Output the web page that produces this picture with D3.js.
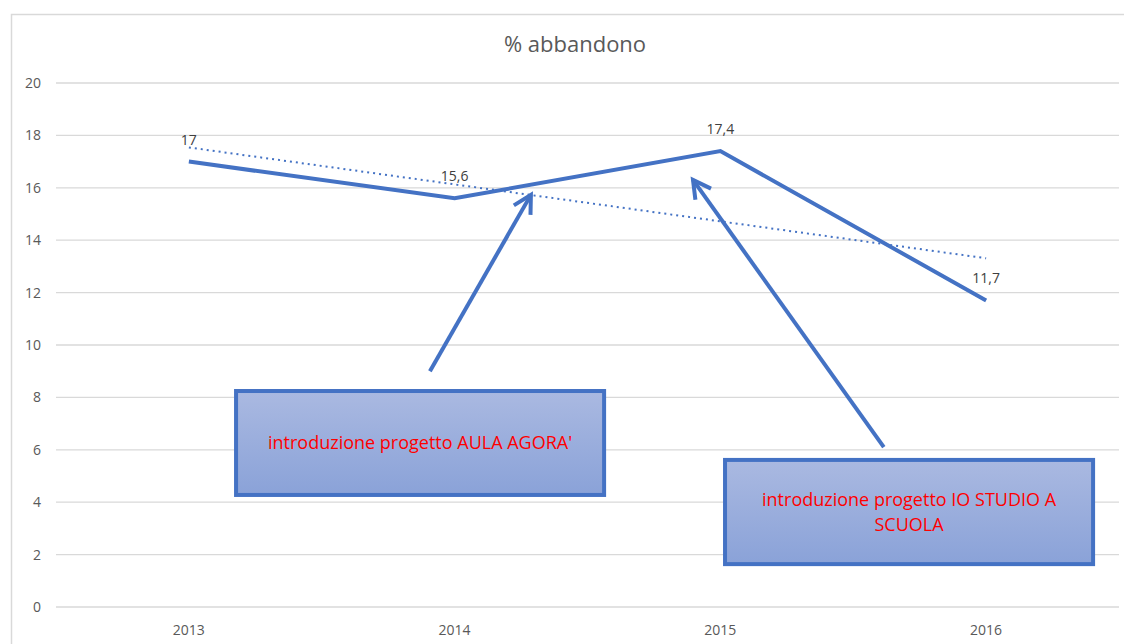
<!DOCTYPE html>
<html>
<head>
<meta charset="utf-8">
<script src="https://cdn.jsdelivr.net/npm/d3@7"></script>
<style>
  body { margin:0; background:#fff; }
  text { font-family: "Open Sans", "Noto Sans", sans-serif; }
</style>
</head>
<body>
<div id="plot"></div>
<script>
// data
var years = ['2013','2014','2015','2016'];
var abbandono = [17, 15.6, 17.4, 11.7];
var yTicks = [0,2,4,6,8,10,12,14,16,18,20];

// annotations, in data space (x = category index, y = value)
var boxes = [
  {x0:0.17, x1:1.57, y0:8.32, y1:4.2, lines:["introduzione progetto AULA AGORA'"]},
  {x0:2.01, x1:3.41, y0:5.69, y1:1.56, lines:["introduzione progetto IO STUDIO A","SCUOLA"]}
];
var arrows = [
  {x0:0.907, y0:9.0, x1:1.287, y1:15.73},
  {x0:2.615, y0:6.1, x1:1.897, y1:16.3}
];

var W = 1124, H = 644;
var margin = {t:83, r:5, b:37, l:56};
var blue = '#4472C4';

var svg = d3.select('#plot').append('svg')
  .attr('width', W).attr('height', H);

var defs = svg.append('defs');
var grad = defs.append('linearGradient').attr('id','boxfill')
  .attr('x1',0).attr('y1',0).attr('x2',0).attr('y2',1);
grad.append('stop').attr('offset','0%').attr('stop-color','#AAB9E1');
grad.append('stop').attr('offset','100%').attr('stop-color','#8AA2D8');

// chart border
svg.append('rect')
  .attr('x',11.5).attr('y',14.5).attr('width',W+10).attr('height',H+10)
  .attr('fill','none').attr('stroke','#D9D9D9').attr('stroke-width',1.5);

var x = d3.scalePoint().domain(years).range([margin.l, W-margin.r]).padding(0.5);
var xi = d3.scaleLinear().domain([0,3]).range([x('2013'), x('2016')]);
var y = d3.scaleLinear().domain([0,20]).range([H-margin.b, margin.t]);

// gridlines
svg.append('g').selectAll('line').data(yTicks).enter().append('line')
  .attr('x1', margin.l).attr('x2', W-margin.r)
  .attr('y1', function(d){ return y(d); }).attr('y2', function(d){ return y(d); })
  .attr('stroke','#D9D9D9').attr('stroke-width',1.3);

// y labels
svg.append('g').selectAll('text').data(yTicks).enter().append('text')
  .attr('x', 41).attr('y', function(d){ return y(d); })
  .attr('dy','0.35em').attr('text-anchor','end')
  .attr('font-size',14).attr('fill','#595959')
  .text(function(d){ return d; });

// x labels
svg.append('g').selectAll('text').data(years).enter().append('text')
  .attr('x', function(d){ return x(d); }).attr('y', H-margin.b+28)
  .attr('text-anchor','middle').attr('font-size',14).attr('fill','#595959')
  .text(function(d){ return d; });

// title
svg.append('text').attr('x', 575).attr('y', 52)
  .attr('text-anchor','middle').attr('font-size',22).attr('fill','#595959')
  .text('% abbandono');

// series line
var pts = years.map(function(d,i){ return {k:d, v:abbandono[i]}; });
var line = d3.line().x(function(d){ return x(d.k); }).y(function(d){ return y(d.v); });
svg.append('path').datum(pts).attr('d', line)
  .attr('fill','none').attr('stroke',blue).attr('stroke-width',4)
  .attr('stroke-linejoin','miter');

// linear trend
var n = abbandono.length, mx = (n-1)/2, my = d3.mean(abbandono);
var sxy = 0, sxx = 0;
abbandono.forEach(function(v,i){ sxy += (i-mx)*(v-my); sxx += (i-mx)*(i-mx); });
var slope = sxy/sxx, icpt = my - slope*mx;
svg.append('line')
  .attr('x1', xi(0)).attr('y1', y(icpt))
  .attr('x2', xi(n-1)).attr('y2', y(icpt + slope*(n-1)))
  .attr('stroke',blue).attr('stroke-width',2)
  .attr('stroke-dasharray','2,4');

// data labels
svg.append('g').selectAll('text').data(pts).enter().append('text')
  .attr('x', function(d){ return x(d.k); })
  .attr('y', function(d){ return y(d.v) - 17; })
  .attr('text-anchor','middle').attr('font-size',14).attr('fill','#404040')
  .text(function(d){ return String(d.v).replace('.',','); });

// arrows
arrows.forEach(function(a){
  var X0 = xi(a.x0), Y0 = y(a.y0), X1 = xi(a.x1), Y1 = y(a.y1);
  var ang = Math.atan2(Y1-Y0, X1-X0), L = 20, spread = 0.5;
  svg.append('line').attr('x1',X0).attr('y1',Y0).attr('x2',X1).attr('y2',Y1)
    .attr('stroke',blue).attr('stroke-width',4);
  var p = [
    [X1 - L*Math.cos(ang-spread), Y1 - L*Math.sin(ang-spread)],
    [X1, Y1],
    [X1 - L*Math.cos(ang+spread), Y1 - L*Math.sin(ang+spread)]
  ];
  svg.append('path').attr('d', d3.line()(p))
    .attr('fill','none').attr('stroke',blue).attr('stroke-width',4)
    .attr('stroke-linejoin','miter');
});

// text boxes
boxes.forEach(function(b){
  var X0 = xi(b.x0), X1 = xi(b.x1), Y0 = y(b.y0), Y1 = y(b.y1);
  svg.append('rect').attr('x',X0+2).attr('y',Y0+2)
    .attr('width',X1-X0-4).attr('height',Y1-Y0-4)
    .attr('fill','url(#boxfill)').attr('stroke',blue).attr('stroke-width',4);
  var cy = (Y0+Y1)/2, lh = 25;
  b.lines.forEach(function(t,i){
    svg.append('text').attr('x',(X0+X1)/2)
      .attr('y', cy + (i-(b.lines.length-1)/2)*lh)
      .attr('dy','0.35em').attr('text-anchor','middle')
      .attr('font-size',18).attr('fill','#FF0000')
      .text(t);
  });
});
</script>
</body>
</html>
